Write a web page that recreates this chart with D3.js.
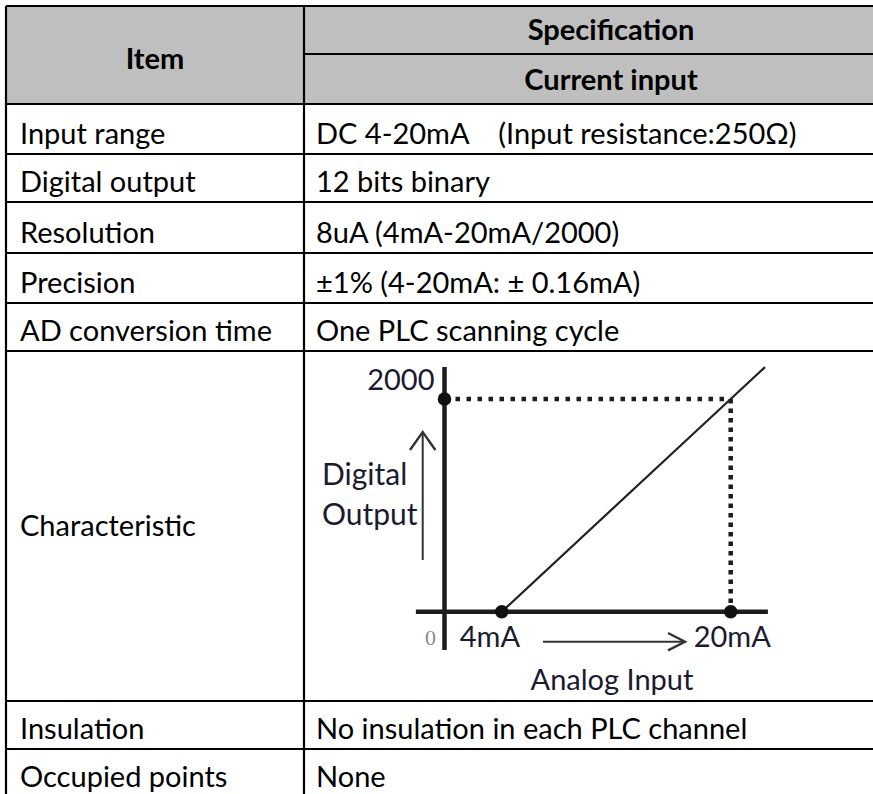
<!DOCTYPE html>
<html><head><meta charset="utf-8">
<script src="https://cdn.jsdelivr.net/npm/d3@7"></script>
<style>html,body{margin:0;padding:0;background:#fff;overflow:hidden}</style>
</head><body><svg id="c" width="873" height="794"></svg>
<script>
// ---------- data ----------
const headerItem = "Item";
const headerSpec = "Specification";
const headerSub = "Current input";
const items = ["Input range","Digital output","Resolution","Precision","AD conversion time","Characteristic","Insulation","Occupied points"];
const specs = ["DC 4-20mA    (Input resistance:250\u03A9)","12 bits binary","8uA (4mA-20mA/2000)","\u00B11% (4-20mA: \u00B1 0.16mA)","One PLC scanning cycle",null,"No insulation in each PLC channel","None"];
// characteristic curve
const currentTicks = [4, 20];
const currentTickLabels = ["4mA", "20mA"];
const outputTicks = [0, 2000];
const outputTickLabels = ["0", "2000"];
const curve = [{mA:4, out:0},{mA:20, out:2000},{mA:22.4, out:2300}];
const xAxisLabel = "Analog Input";
const yAxisLabel = ["Digital", "Output"];

// ---------- layout ----------
const svg = d3.select("#c");
const W = 873, H = 794;
const tLeft = 6, tRight = 918, tTop = 6, colX = 304;
const headerMid = 54, headerBottom = 104;
const rowBottoms = [154, 202, 253, 303, 351, 701, 749, 797];
const tableFont = "Lato, 'Open Sans', sans-serif";
const fs = 29;

svg.append("rect").attr("width", W).attr("height", H).attr("fill", "#fff");
svg.append("rect").attr("x", tLeft).attr("y", tTop).attr("width", tRight-tLeft).attr("height", headerBottom-tTop).attr("fill", "#bfbfbf");

const g = svg.append("g");
// header text
g.append("text").attr("x", (tLeft+colX)/2).attr("y", 69).attr("text-anchor","middle")
  .attr("font-family", tableFont).attr("font-weight", 700).attr("font-size", fs).text(headerItem);
g.append("text").attr("x", (colX+tRight)/2).attr("y", 40).attr("text-anchor","middle")
  .attr("font-family", tableFont).attr("font-weight", 700).attr("font-size", fs).text(headerSpec);
g.append("text").attr("x", (colX+tRight)/2).attr("y", 90).attr("text-anchor","middle")
  .attr("font-family", tableFont).attr("font-weight", 700).attr("font-size", fs).text(headerSub);

// rows
const rows = items.map((it, i) => ({item: it, spec: specs[i], y0: i ? rowBottoms[i-1] : headerBottom, y1: rowBottoms[i]}));
rows.forEach(r => {
  const tall = (r.y1 - r.y0) > 100;
  const by = tall ? (r.y0 + r.y1)/2 + 10 : r.y1 - 10;
  g.append("text").attr("x", 20).attr("y", by).attr("font-family", tableFont).attr("font-size", fs)
    .attr("fill", "#000").style("white-space","pre").text(r.item);
  if (r.spec) g.append("text").attr("x", 316).attr("y", by).attr("font-family", tableFont).attr("font-size", fs)
    .attr("fill", "#000").style("white-space","pre").text(r.spec);
});

// grid lines
const lines = svg.append("g").attr("stroke", "#000").attr("stroke-width", 2.2);
[tTop, headerBottom, ...rowBottoms].forEach(yy => lines.append("line").attr("x1", tLeft).attr("x2", tRight).attr("y1", yy).attr("y2", yy));
lines.append("line").attr("x1", colX).attr("x2", tRight).attr("y1", headerMid).attr("y2", headerMid);
lines.append("line").attr("x1", tLeft).attr("x2", tLeft).attr("y1", tTop).attr("y2", H+10);
lines.append("line").attr("x1", colX).attr("x2", colX).attr("y1", tTop).attr("y2", H+10);

// ---------- characteristic chart ----------
const x = d3.scaleLinear().domain([0, 20]).range([444.5, 730.7]);
const y = d3.scaleLinear().domain([0, 2000]).range([611.7, 399]);
const ch = svg.append("g");
const ink = "#1c1c1c", labelInk = "#1a1a30";
const chartFont = "Lato, 'Open Sans', sans-serif";

// dotted guide lines
ch.append("path")
  .attr("d", d3.line()([[x(0), y(2000)], [x(20), y(2000)]]))
  .attr("stroke", ink).attr("stroke-width", 4.5).attr("stroke-dasharray", "4.5,6.5").attr("fill","none");
ch.append("path")
  .attr("d", d3.line()([[x(20), y(2000)], [x(20), y(0)]]))
  .attr("stroke", ink).attr("stroke-width", 4.5).attr("stroke-dasharray", "4.5,5").attr("fill","none");

// axes
ch.append("line").attr("x1", x(-2)).attr("x2", x(22.6)).attr("y1", y(0)).attr("y2", y(0))
  .attr("stroke", ink).attr("stroke-width", 4.5);
ch.append("line").attr("x1", x(0)).attr("x2", x(0)).attr("y1", y(2300)).attr("y2", y(-360))
  .attr("stroke", ink).attr("stroke-width", 4.5);

// characteristic line
ch.append("path").datum(curve)
  .attr("d", d3.line().x(d => x(d.mA)).y(d => y(d.out)))
  .attr("stroke", "#222").attr("stroke-width", 2.2).attr("fill", "none");

// markers
const marks = [{mA:currentTicks[0], out:0},{mA:currentTicks[1], out:0},{mA:0, out:outputTicks[1]}];
ch.selectAll("circle.m").data(marks).join("circle")
  .attr("cx", d => x(d.mA)).attr("cy", d => y(d.out)).attr("r", 6.8).attr("fill", "#111");

// tick labels
ch.append("text").attr("x", x(0) - 10).attr("y", y(2000) - 9).attr("text-anchor", "end")
  .attr("font-family", chartFont).attr("font-size", 29).attr("fill", labelInk).text(outputTickLabels[1]);
ch.append("text").attr("x", x(0) - 14).attr("y", 645).attr("text-anchor", "middle")
  .attr("font-family", "'Liberation Serif', serif").attr("font-size", 22).attr("fill", "#8a8a8a").text(outputTickLabels[0]);
ch.selectAll("text.xt").data(currentTicks).join("text")
  .attr("x", (d,i) => i ? x(d) - 37 : x(d) - 42).attr("y", 647)
  .attr("font-family", chartFont).attr("font-size", 29).attr("fill", labelInk)
  .text((d,i) => currentTickLabels[i]);

// axis titles
ch.selectAll("text.yl").data(yAxisLabel).join("text")
  .attr("x", 322).attr("y", (d,i) => 485 + i*40)
  .attr("font-family", chartFont).attr("font-size", 30).attr("fill", labelInk).text(d => d);
ch.append("text").attr("x", 612).attr("y", 690).attr("text-anchor","middle")
  .attr("font-family", chartFont).attr("font-size", 29).attr("fill", labelInk).text(xAxisLabel);

// arrows
const arrowInk = "#333";
ch.append("path").attr("d", d3.line()([[422.7, 560], [422.7, 432]])).attr("stroke", arrowInk).attr("stroke-width", 2).attr("fill","none");
ch.append("path").attr("d", d3.line()([[410, 450], [422.7, 432], [435.4, 450]])).attr("stroke", arrowInk).attr("stroke-width", 2.4).attr("fill","none");
ch.append("path").attr("d", d3.line()([[543, 641.7], [684, 641.7]])).attr("stroke", arrowInk).attr("stroke-width", 2).attr("fill","none");
ch.append("path").attr("d", d3.line()([[668, 633], [685, 641.7], [668, 650.4]])).attr("stroke", arrowInk).attr("stroke-width", 2.4).attr("fill","none");
</script></body></html>
